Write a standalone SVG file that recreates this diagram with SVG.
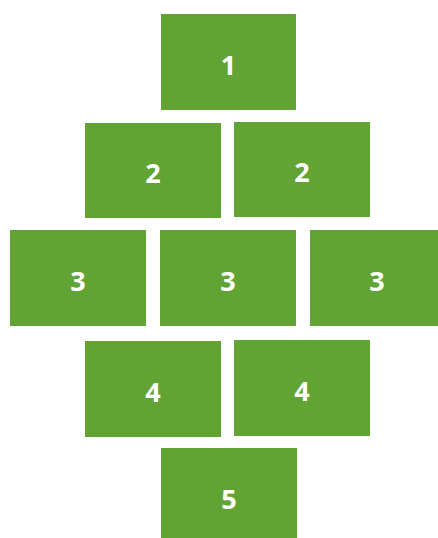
<svg xmlns="http://www.w3.org/2000/svg" width="438" height="538" viewBox="0 0 438 538">
<style>
.b{fill:#62A434}
.t{fill:#fff;font-family:"Open Sans",sans-serif;font-weight:bold;font-size:27px;text-anchor:middle}
</style>
<rect width="438" height="538" fill="#fff"/>
<g id="connectors"/>
<g id="n1"><rect class="b" x="161" y="14" width="135" height="96"/><text class="t" x="228.5" y="75">1</text></g>
<g id="n2a"><rect class="b" x="85" y="123" width="136" height="95"/><text class="t" x="153" y="183">2</text></g>
<g id="n2b"><rect class="b" x="234" y="122" width="136" height="95"/><text class="t" x="302" y="182">2</text></g>
<g id="n3a"><rect class="b" x="10" y="230" width="136" height="96"/><text class="t" x="78" y="291">3</text></g>
<g id="n3b"><rect class="b" x="160" y="230" width="136" height="96"/><text class="t" x="228" y="291">3</text></g>
<g id="n3c"><rect class="b" x="310" y="230" width="128" height="96"/><text class="t" x="377" y="291">3</text></g>
<g id="n4a"><rect class="b" x="85" y="341" width="136" height="96"/><text class="t" x="153" y="402">4</text></g>
<g id="n4b"><rect class="b" x="234" y="340" width="136" height="96"/><text class="t" x="302" y="401">4</text></g>
<g id="n5"><rect class="b" x="161" y="448" width="136" height="90"/><text class="t" x="229" y="509">5</text></g>
</svg>
